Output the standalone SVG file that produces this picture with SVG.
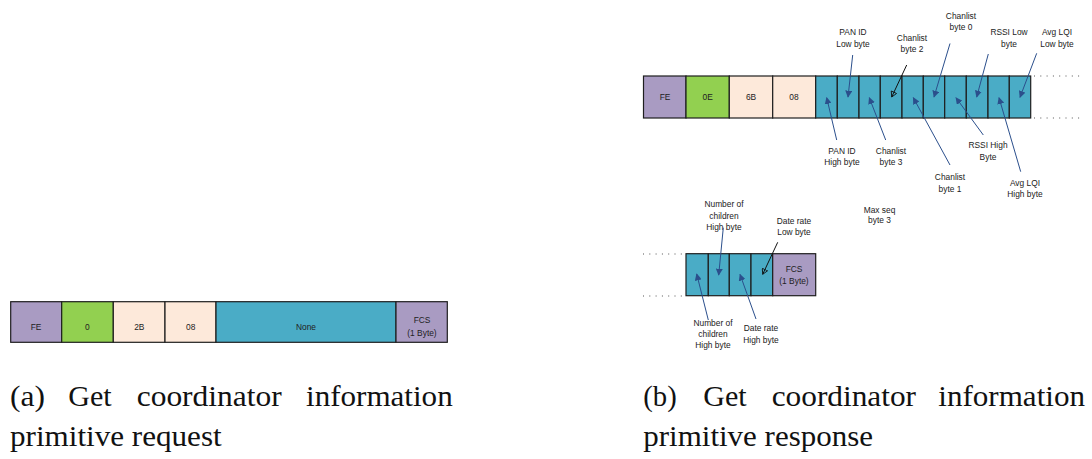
<svg xmlns="http://www.w3.org/2000/svg" width="1092" height="459" viewBox="0 0 1092 459">
  <style>
    .lbl { font-family: "Liberation Sans", Arial, sans-serif; font-size: 8.4px; fill: #222; text-anchor: middle; }
    .cap { font-family: "Liberation Serif", "Times New Roman", serif; font-size: 30px; fill: #111; }
    .cell { stroke: #1e1e1e; stroke-width: 1.2; }
    .purple { fill: #a99bc2; }
    .green { fill: #92d050; }
    .peach { fill: #fde9da; }
    .teal { fill: #4aacc6; }
    .dots { stroke: #555; stroke-width: 1.2; stroke-dasharray: 1 5.3; fill: none; }
    .ab { stroke: #2b4f8c; stroke-width: 1; fill: none; marker-end: url(#headBlue); }
    .ak { stroke: #111; stroke-width: 1; fill: none; marker-end: url(#headOpen); }
  </style>
  <defs>
    <marker id="headBlue" viewBox="0 0 10 10" refX="9" refY="5" markerWidth="7" markerHeight="7" markerUnits="userSpaceOnUse" orient="auto">
      <path d="M0,0 L10,5 L0,10 z" fill="#2b4f8c"/>
    </marker>
    <marker id="headOpen" viewBox="0 0 12 12" refX="10" refY="6" markerWidth="7" markerHeight="7" markerUnits="userSpaceOnUse" orient="auto">
      <path d="M1,1 L10,6 L1,11 z" fill="none" stroke="#111" stroke-width="1.4"/>
    </marker>
  </defs>
  <rect width="1092" height="459" fill="#ffffff"/>

  <!-- (a) request frame -->
  <g id="request-frame">
    <rect class="cell purple" x="10.7" y="301.7" width="51" height="40.6"/>
    <rect class="cell green" x="61.7" y="301.7" width="51.6" height="40.6"/>
    <rect class="cell peach" x="113.3" y="301.7" width="51.7" height="40.6"/>
    <rect class="cell peach" x="165" y="301.7" width="51" height="40.6"/>
    <rect class="cell teal" x="216" y="301.7" width="180" height="40.6"/>
    <rect class="cell purple" x="396" y="301.7" width="51.3" height="40.6"/>
    <text class="lbl" x="36" y="329.5">FE</text>
    <text class="lbl" x="87.3" y="329.5">0</text>
    <text class="lbl" x="139.3" y="329.5">2B</text>
    <text class="lbl" x="190.7" y="329.5">08</text>
    <text class="lbl" x="306" y="329.5">None</text>
    <text class="lbl" x="422" y="323">FCS</text>
    <text class="lbl" x="422" y="335.5">(1 Byte)</text>
  </g>

  <!-- (b) response frame, first row -->
  <g id="response-head">
    <rect class="cell purple" x="643.5" y="76" width="42.5" height="42"/>
    <rect class="cell green" x="686" y="76" width="43.3" height="42"/>
    <rect class="cell peach" x="729.3" y="76" width="43.4" height="42"/>
    <rect class="cell peach" x="772.7" y="76" width="43" height="42"/>
    <text class="lbl" x="665" y="100">FE</text>
    <text class="lbl" x="707.7" y="100">0E</text>
    <text class="lbl" x="751" y="100">6B</text>
    <text class="lbl" x="794" y="100">08</text>
  </g>
  <g id="response-payload-1">
    <rect class="cell teal" x="815.7" y="76" width="21.6" height="42"/>
    <rect class="cell teal" x="837.3" y="76" width="21.7" height="42"/>
    <rect class="cell teal" x="859" y="76" width="21.3" height="42"/>
    <rect class="cell teal" x="880.3" y="76" width="21.7" height="42"/>
    <rect class="cell teal" x="902" y="76" width="21.3" height="42"/>
    <rect class="cell teal" x="923.3" y="76" width="21.4" height="42"/>
    <rect class="cell teal" x="944.7" y="76" width="21.6" height="42"/>
    <rect class="cell teal" x="966.3" y="76" width="21.7" height="42"/>
    <rect class="cell teal" x="988" y="76" width="21.3" height="42"/>
    <rect class="cell teal" x="1009.3" y="76" width="21.4" height="42"/>
    <line class="dots" x1="1034" y1="76" x2="1080" y2="76"/>
    <line class="dots" x1="1034" y1="118" x2="1080" y2="118"/>
  </g>

  <!-- (b) response frame, second row -->
  <g id="response-payload-2">
    <line class="dots" x1="643" y1="254" x2="684" y2="254"/>
    <line class="dots" x1="643" y1="296" x2="684" y2="296"/>
    <rect class="cell teal" x="686" y="253.7" width="22.3" height="42"/>
    <rect class="cell teal" x="708.3" y="253.7" width="21" height="42"/>
    <rect class="cell teal" x="729.3" y="253.7" width="21.7" height="42"/>
    <rect class="cell teal" x="751" y="253.7" width="21.7" height="42"/>
    <rect class="cell purple" x="772.7" y="253.7" width="43" height="42"/>
    <text class="lbl" x="794" y="272">FCS</text>
    <text class="lbl" x="794" y="284">(1 Byte)</text>
  </g>

  <!-- field labels -->
  <g id="labels">
    <text class="lbl" x="853" y="35">PAN ID</text>
    <text class="lbl" x="853" y="47">Low byte</text>
    <text class="lbl" x="912" y="41">Chanlist</text>
    <text class="lbl" x="912" y="52">byte 2</text>
    <text class="lbl" x="961" y="19">Chanlist</text>
    <text class="lbl" x="961" y="30">byte 0</text>
    <text class="lbl" x="1009" y="35">RSSI Low</text>
    <text class="lbl" x="1009" y="47">byte</text>
    <text class="lbl" x="1057" y="35">Avg LQI</text>
    <text class="lbl" x="1057" y="47">Low byte</text>
    <text class="lbl" x="842" y="154">PAN ID</text>
    <text class="lbl" x="842" y="165">High byte</text>
    <text class="lbl" x="891" y="154">Chanlist</text>
    <text class="lbl" x="891" y="165">byte 3</text>
    <text class="lbl" x="950" y="180">Chanlist</text>
    <text class="lbl" x="950" y="192">byte 1</text>
    <text class="lbl" x="988" y="148">RSSI High</text>
    <text class="lbl" x="988" y="160">Byte</text>
    <text class="lbl" x="1025" y="186">Avg LQI</text>
    <text class="lbl" x="1025" y="197">High byte</text>
    <text class="lbl" x="879.5" y="213">Max seq</text>
    <text class="lbl" x="879.5" y="222.5">byte 3</text>
    <text class="lbl" x="724" y="207">Number of</text>
    <text class="lbl" x="724" y="219">children</text>
    <text class="lbl" x="724" y="230">High byte</text>
    <text class="lbl" x="794" y="224">Date rate</text>
    <text class="lbl" x="794" y="235">Low byte</text>
    <text class="lbl" x="713" y="325.5">Number of</text>
    <text class="lbl" x="713" y="337">children</text>
    <text class="lbl" x="713" y="348">High byte</text>
    <text class="lbl" x="761" y="331">Date rate</text>
    <text class="lbl" x="761" y="343">High byte</text>
  </g>

  <!-- pointer arrows -->
  <g id="connectors">
    <line class="ab" x1="852.7" y1="55" x2="848" y2="97"/>
    <line class="ak" x1="906.7" y1="65" x2="891.7" y2="97"/>
    <line class="ab" x1="950" y1="43.5" x2="934" y2="97"/>
    <line class="ab" x1="988.3" y1="54" x2="976.7" y2="97"/>
    <line class="ab" x1="1036.7" y1="53.3" x2="1020" y2="97.3"/>
    <line class="ab" x1="836.7" y1="140" x2="826.7" y2="97.7"/>
    <line class="ab" x1="885.7" y1="140" x2="869.3" y2="97.7"/>
    <line class="ab" x1="950" y1="165" x2="913.3" y2="97.7"/>
    <line class="ab" x1="983.3" y1="135" x2="956" y2="97.7"/>
    <line class="ab" x1="1020.7" y1="171.7" x2="999" y2="97.7"/>
    <line class="ab" x1="723.3" y1="227.7" x2="718.7" y2="275"/>
    <line class="ak" x1="777.7" y1="242.3" x2="762.7" y2="274.3"/>
    <line class="ab" x1="708.3" y1="320" x2="696.7" y2="274"/>
    <line class="ab" x1="756" y1="319" x2="740" y2="274.3"/>
  </g>

  <!-- sub-figure captions -->
  <g id="caption-a">
    <text class="cap" x="10" y="406" textLength="35" lengthAdjust="spacingAndGlyphs">(a)</text>
    <text class="cap" x="68.3" y="406" textLength="43.4" lengthAdjust="spacingAndGlyphs">Get</text>
    <text class="cap" x="136.7" y="406" textLength="145" lengthAdjust="spacingAndGlyphs">coordinator</text>
    <text class="cap" x="306" y="406" textLength="146.7" lengthAdjust="spacingAndGlyphs">information</text>
    <text class="cap" x="10" y="446" textLength="211.7" lengthAdjust="spacingAndGlyphs">primitive request</text>
  </g>
  <g id="caption-b">
    <text class="cap" x="643.3" y="406" textLength="33.4" lengthAdjust="spacingAndGlyphs">(b)</text>
    <text class="cap" x="703.3" y="406" textLength="43.4" lengthAdjust="spacingAndGlyphs">Get</text>
    <text class="cap" x="771.7" y="406" textLength="144.3" lengthAdjust="spacingAndGlyphs">coordinator</text>
    <text class="cap" x="938.3" y="406" textLength="146.7" lengthAdjust="spacingAndGlyphs">information</text>
    <text class="cap" x="643.3" y="446" textLength="229.7" lengthAdjust="spacingAndGlyphs">primitive response</text>
  </g>
</svg>
